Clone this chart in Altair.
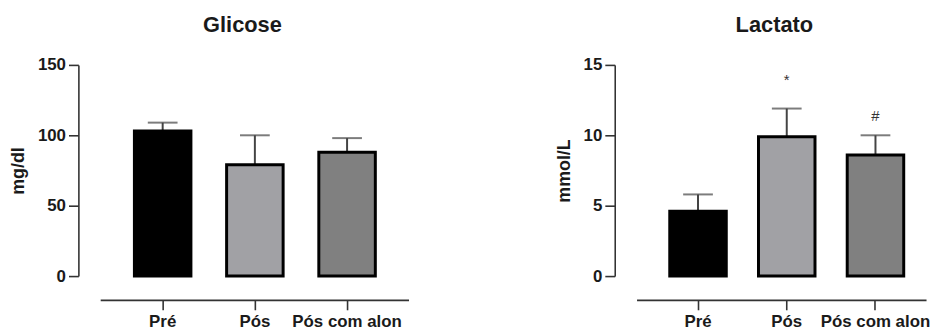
import altair as alt
import pandas as pd

cats = ["Pré", "Pós", "Pós com alon"]
fills = ["#000000", "#a1a1a5", "#808080"]

glic_mean = [103, 79, 88]
glic_sd = [6, 21, 10]

lact_mean = [4.6, 9.9, 8.6]
lact_sd = [1.2, 2.0, 1.4]
lact_marks = ["", "*", "#"]
lact_mark_y = [None, 13.6, 11.0]

FONT = "Liberation Sans"
TXT = "#1a1a1a"
AX = "#333333"


def panel(title, ytitle, mean, sd, ymax, yticks, width, align, po, dx,
          marks=None, mark_y=None):
    df = pd.DataFrame({
        "cat": cats,
        "mean": mean,
        "hi": [m + s for m, s in zip(mean, sd)],
        "fill": fills,
    })
    if marks is not None:
        df["mark"] = marks
        df["mark_y"] = mark_y

    x_axis = alt.Axis(title=None, labelAngle=0, offset=24, tickSize=10,
                      labelPadding=4, labelFontSize=17, labelFont=FONT,
                      labelFontWeight="bold", labelColor=TXT,
                      domainColor=AX, domainWidth=1.6, tickColor=AX,
                      tickWidth=1.6)
    x = alt.X("cat:N", sort=cats, axis=x_axis,
              scale=alt.Scale(paddingInner=0, paddingOuter=po, align=align))
    y_axis = alt.Axis(title=ytitle, values=yticks, offset=22, tickSize=10,
                      labelPadding=3, labelFontSize=17, labelFont=FONT,
                      labelFontWeight="bold", labelColor=TXT, grid=False,
                      domainColor=AX, domainWidth=1.6, tickColor=AX,
                      tickWidth=1.6, titlePadding=10, titleFontSize=18,
                      titleFont=FONT, titleFontWeight="bold", titleColor=TXT)
    yscale = alt.Scale(domain=[0, ymax], nice=False, zero=True)

    base = alt.Chart(df)
    rule = base.mark_rule(color="#444444", strokeWidth=2).encode(
        x=x, y=alt.Y("mean:Q", scale=yscale, axis=y_axis), y2="hi:Q")
    cap = base.mark_tick(color="#444444", thickness=2, size=30).encode(
        x=x, y=alt.Y("hi:Q", scale=yscale, axis=y_axis))
    bar = base.mark_bar(size=57, stroke="black", strokeWidth=3).encode(
        x=x, y=alt.Y("mean:Q", scale=yscale, axis=y_axis),
        fill=alt.Fill("fill:N", scale=None))
    layers = [rule, cap, bar]
    if marks is not None:
        txt = base.mark_text(font=FONT, fontSize=15, color="#333333",
                             baseline="alphabetic").encode(
            x=x, y=alt.Y("mark_y:Q", scale=yscale, axis=y_axis),
            text="mark:N")
        layers.append(txt)
    return alt.layer(*layers).properties(
        width=width, height=213,
        title=alt.TitleParams(title, fontSize=22, font=FONT,
                              fontWeight="bold", color=TXT, anchor="middle",
                              frame="group", dx=dx, offset=19))


left = panel("Glicose", "mg/dl", glic_mean, glic_sd, 150, [0, 50, 100, 150],
             311, 0.516, 0.172, -12)
right = panel("Lactato", "mmol/L", lact_mean, lact_sd, 15, [0, 5, 10, 15],
              292, 0.734, 0.1313, -7, lact_marks, lact_mark_y)

chart = alt.hconcat(left, right, spacing=148).resolve_scale(
    x="independent", y="independent"
).properties(
    padding={"left": 1, "top": 5, "right": 0, "bottom": 0}
).configure_view(stroke=None)

chart.save("out.html", embed_options={"renderer": "svg", "actions": False})
